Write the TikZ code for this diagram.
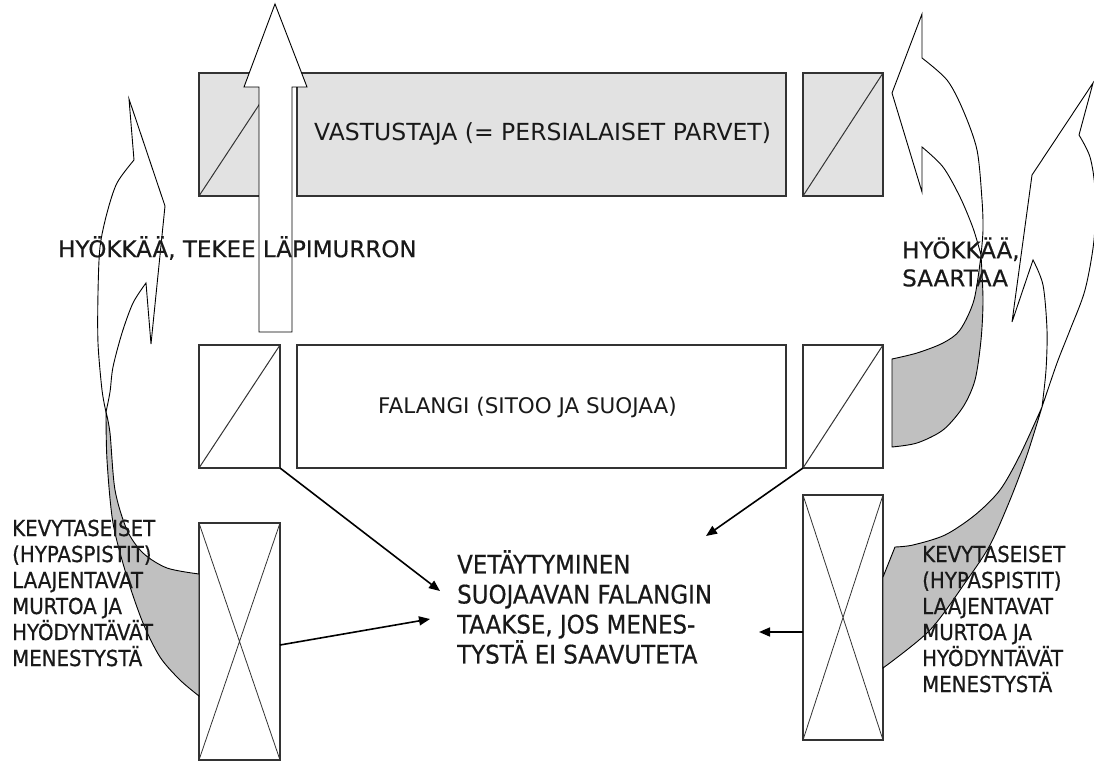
\documentclass[tikz,border=0pt]{standalone}
\usepackage{fontspec}
\setmainfont{DejaVu Sans Condensed}
\newfontfamily\wide{DejaVu Sans}
\newfontfamily\widebold[FakeBold=0.5]{DejaVu Sans}
\newfontfamily\heavy[FakeBold=0.5]{DejaVu Sans Condensed}
\usetikzlibrary{arrows.meta}
\definecolor{shade}{HTML}{E2E2E2}
\definecolor{backc}{HTML}{C0C0C0}
\definecolor{edge}{HTML}{333333}
\begin{document}
\begin{tikzpicture}[x=1pt,y=-1pt,
  box/.style={draw=edge,line width=1.1pt,inner sep=0pt,outer sep=0pt,anchor=north west},
  shadebox/.style={box,fill=shade},
  conn/.style={draw=black,line width=1.6pt,-{Triangle[length=11pt,width=9pt]}},
  ribbon/.style={draw=black,line width=0.9pt,fill=white,line join=miter},
  backface/.style={draw=black,line width=0.9pt,fill=backc},
  txt/.style={inner sep=0pt,anchor=west,align=left,text=black!90},
  boxtxt/.style={txt,font=\wide\fontsize{23.5}{28}\selectfont},
  big/.style={txt,font=\heavy\fontsize{25.5}{30}\selectfont},
  lbl/.style={txt,font=\heavy\fontsize{22}{26}\selectfont},
  attack/.style={txt,font=\widebold\fontsize{23}{28}\selectfont}
]
\useasboundingbox (0,0) rectangle (1094,767);
\fill[white] (0,0) rectangle (1094,767);

% top row (enemy)
\node[shadebox,minimum width=81pt,minimum height=123pt] (tl) at (199,73) {};
\node[shadebox,minimum width=489pt,minimum height=123pt] (tm) at (297,73) {};
\node[shadebox,minimum width=80pt,minimum height=123pt] (tr) at (803,73) {};
\draw[edge,line width=1pt] (tl.south west) -- (tl.north east);
\draw[edge,line width=1pt] (tr.south west) -- (tr.north east);

% middle row (phalanx)
\node[box,minimum width=81pt,minimum height=123pt] (ml) at (199,345) {};
\node[box,minimum width=489pt,minimum height=123pt] (mm) at (297,345) {};
\node[box,minimum width=80pt,minimum height=123pt] (mr) at (803,345) {};
\draw[edge,line width=1pt] (ml.south west) -- (ml.north east);
\draw[edge,line width=1pt] (mr.south west) -- (mr.north east);

% bottom boxes
\node[box,minimum width=81pt,minimum height=237pt] (bl) at (199,523) {};
\node[box,minimum width=80pt,minimum height=245pt] (br) at (803,495) {};
\draw[edge,line width=0.8pt] (bl.south west) -- (bl.north east) (bl.north west) -- (bl.south east);
\draw[edge,line width=0.8pt] (br.south west) -- (br.north east) (br.north west) -- (br.south east);

% breakthrough arrow
\filldraw[ribbon] (259,332) -- (259,87) -- (244,87) -- (275,4) -- (307,87) -- (292,87) -- (292,332) -- cycle;

% left curved arrow
\filldraw[backface] plot[smooth] coordinates {(106,412)(110,433)(115,490)(127,530)(143,553)(167,568)(199,574)}
  -- (199,696) -- plot[smooth] coordinates {(199,696)(180,680)(160,657)(143,623)(127,577)(113,523)(107,460)(106,412)} -- cycle;
\filldraw[ribbon] plot[smooth] coordinates {(106,412)(102,390)(98,343)(98,293)(100,247)(107,213)(117,183)(134,160)}
  -- (129,99) -- (165,206) -- (151,344) -- (146,283)
  -- plot[smooth] coordinates {(146,283)(133,303)(122,333)(113,367)(110,392)(106,412)} -- cycle;

% right curved arrow 1 (flank)
\filldraw[backface] plot[smooth] coordinates {(981,255)(974,300)(960,330)(943,343)(917,353)(892,359)}
  -- (892,447) -- plot[smooth] coordinates {(892,447)(917,443)(943,430)(963,407)(975,380)(981,340)(983,300)(981,255)} -- cycle;
\filldraw[ribbon] plot[smooth] coordinates {(981,255)(983,230)(982,200)(977,150)(963,110)(947,80)(922,58)}
  -- (922,14) -- (892,93) -- (922,192) -- (922,147)
  -- plot[smooth] coordinates {(922,147)(943,167)(960,197)(973,228)(981,255)} -- cycle;

% right curved arrow 2 (light infantry)
\filldraw[backface] plot[smooth] coordinates {(1042,407)(1020,455)(1000,490)(975,515)(945,535)(913,545)(895,547)}
  -- (883,577) -- (883,668) -- plot[smooth] coordinates {(883,668)(930,630)(967,580)(990,545)(1010,500)(1027,455)(1042,407)} -- cycle;
\filldraw[ribbon] plot[smooth] coordinates {(1042,407)(1057,363)(1070,330)(1085,290)(1094,240)(1095,190)(1090,157)(1079,135)}
  -- (1093,83) -- (1032,175) -- (1012,322) -- (1033,260)
  -- plot[smooth] coordinates {(1033,260)(1043,285)(1047,330)(1046,370)(1042,407)} -- cycle;

% connectors
\coordinate (e1) at (440,591);
\coordinate (e2) at (706,536);
\coordinate (e3) at (430,619);
\coordinate (e4) at (759,632);
\draw[conn] (ml.south east) -- (e1);
\draw[conn] (mr.south west) -- (e2);
\draw[conn] ([yshift=-3.5pt]bl.east) -- (e3);
\draw[conn] ([yshift=-14.5pt]br.west) -- (e4);

% texts
\node[boxtxt] (tvast) at (314,134) {VASTUSTAJA (= PERSIALAISET PARVET)};
\node[boxtxt,font=\wide\fontsize{21.5}{28}\selectfont] (tfal) at (378,407) {FALANGI (SITOO JA SUOJAA)};
\node[attack] (tlap) at (58,248) {HYÖKKÄÄ, TEKEE LÄPIMURRON};
\node[attack] (tsaa) at (902,262) {HYÖKKÄÄ,\\SAARTAA};
\node[big] (tret) at (457,607) {VETÄYTYMINEN\\SUOJAAVAN FALANGIN\\TAAKSE, JOS MENES-\\TYSTÄ EI SAAVUTETA};
\node[lbl] (tkl) at (12,593) {KEVYTASEISET\\(HYPASPISTIT)\\LAAJENTAVAT\\MURTOA JA\\HYÖDYNTÄVÄT\\MENESTYSTÄ};
\node[lbl] (tkr) at (922,619) {KEVYTASEISET\\(HYPASPISTIT)\\LAAJENTAVAT\\MURTOA JA\\HYÖDYNTÄVÄT\\MENESTYSTÄ};
\end{tikzpicture}
\end{document}
